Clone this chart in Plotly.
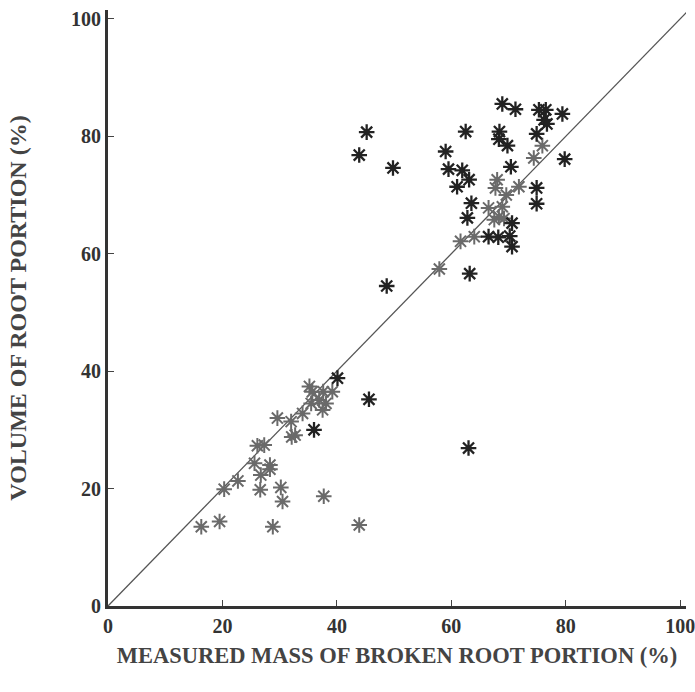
import plotly.graph_objects as go

# Dark asterisks (x = measured mass %, y = volume %)
dark_x = [68.9, 71.2, 75.3, 76.5, 79.4, 76.2, 76.7, 62.5, 68.4, 68.3, 69.8, 74.9,
          59.0, 79.8, 59.5, 61.9, 63.1, 61.0, 70.4, 74.9, 74.9, 63.5, 62.8, 70.6,
          66.5, 68.2, 70.2, 70.6, 63.2, 45.2, 43.9, 49.8, 48.7, 40.1, 45.6, 36.0, 63.0]
dark_y = [85.5, 84.6, 84.5, 84.5, 83.8, 82.8, 82.1, 80.8, 80.8, 79.5, 78.4, 80.4,
          77.4, 76.1, 74.4, 74.2, 72.6, 71.4, 74.8, 71.2, 68.5, 68.6, 66.1, 65.2,
          62.9, 62.8, 63.0, 61.2, 56.6, 80.7, 76.8, 74.6, 54.5, 38.8, 35.2, 30.0, 26.9]

# Grey asterisks
grey_x = [75.9, 74.4, 68.0, 67.7, 71.8, 69.6, 66.5, 68.9, 68.3, 67.5, 69.2, 61.6,
          64.0, 57.9, 16.3, 19.5, 28.8, 43.9, 20.3, 22.7, 26.6, 30.2, 30.5, 37.7,
          26.7, 25.6, 28.3, 28.3, 26.1, 27.3, 29.6, 32.0, 32.1, 32.7, 34.0, 35.2,
          35.5, 36.9, 37.5, 39.2, 38.1, 35.7, 37.6]
grey_y = [78.4, 76.3, 72.6, 71.2, 71.4, 70.0, 67.8, 68.0, 66.3, 65.8, 66.0, 62.1,
          62.9, 57.4, 13.5, 14.4, 13.5, 13.8, 19.9, 21.3, 19.8, 20.2, 17.8, 18.7,
          22.3, 24.3, 24.0, 23.3, 27.3, 27.4, 32.0, 31.4, 28.8, 29.1, 32.8, 37.4,
          34.5, 35.1, 33.4, 36.5, 34.5, 36.5, 36.5]

line_x = [0, 102]
line_y = [0, 102]

tick_vals = [0, 20, 40, 60, 80, 100]
tick_text = ["0", "20", "40", "60", "80", "100"]

font_main = "Liberation Serif"

fig = go.Figure()
fig.add_trace(go.Scatter(x=line_x, y=line_y, mode="lines",
                         line=dict(color="#555555", width=1.3), hoverinfo="skip"))
fig.add_trace(go.Scatter(x=grey_x, y=grey_y, mode="markers",
                         marker=dict(symbol="asterisk-open", size=13, color="#6a6a6a",
                                     line=dict(color="#6a6a6a", width=2))))
fig.add_trace(go.Scatter(x=dark_x, y=dark_y, mode="markers",
                         marker=dict(symbol="asterisk-open", size=13, color="#222222",
                                     line=dict(color="#222222", width=2.3))))

fig.update_layout(
    width=695, height=692,
    margin=dict(l=108, r=9, t=10, b=86, autoexpand=False),
    paper_bgcolor="white", plot_bgcolor="white",
    showlegend=False,
    font=dict(family=font_main, size=20, color="#333333"),
)
fig.update_xaxes(
    range=[0, 101], tickvals=tick_vals, ticktext=tick_text,
    ticks="inside", ticklen=6, tickwidth=1, tickcolor="#444",
    showline=True, linecolor="#333", linewidth=3, showgrid=False, zeroline=False,
    ticklabeloverflow="allow", automargin=False,
    tickfont=dict(family=font_main, size=20, color="#333", weight="bold"),
    title=dict(text="MEASURED MASS OF BROKEN ROOT PORTION (%)", standoff=12,
               font=dict(family=font_main, size=22.5, color="#444", weight="bold")),
)
fig.update_yaxes(
    range=[0, 101.5], tickvals=tick_vals, ticktext=tick_text,
    ticks="inside", ticklen=6, tickwidth=1, tickcolor="#444",
    showline=True, linecolor="#333", linewidth=3, showgrid=False, zeroline=False,
    automargin=False,
    tickfont=dict(family=font_main, size=20, color="#333", weight="bold"),
    title=dict(text="VOLUME OF ROOT PORTION (%)", standoff=38,
               font=dict(family=font_main, size=24, color="#444", weight="bold")),
)

fig.write_html("out.html")
